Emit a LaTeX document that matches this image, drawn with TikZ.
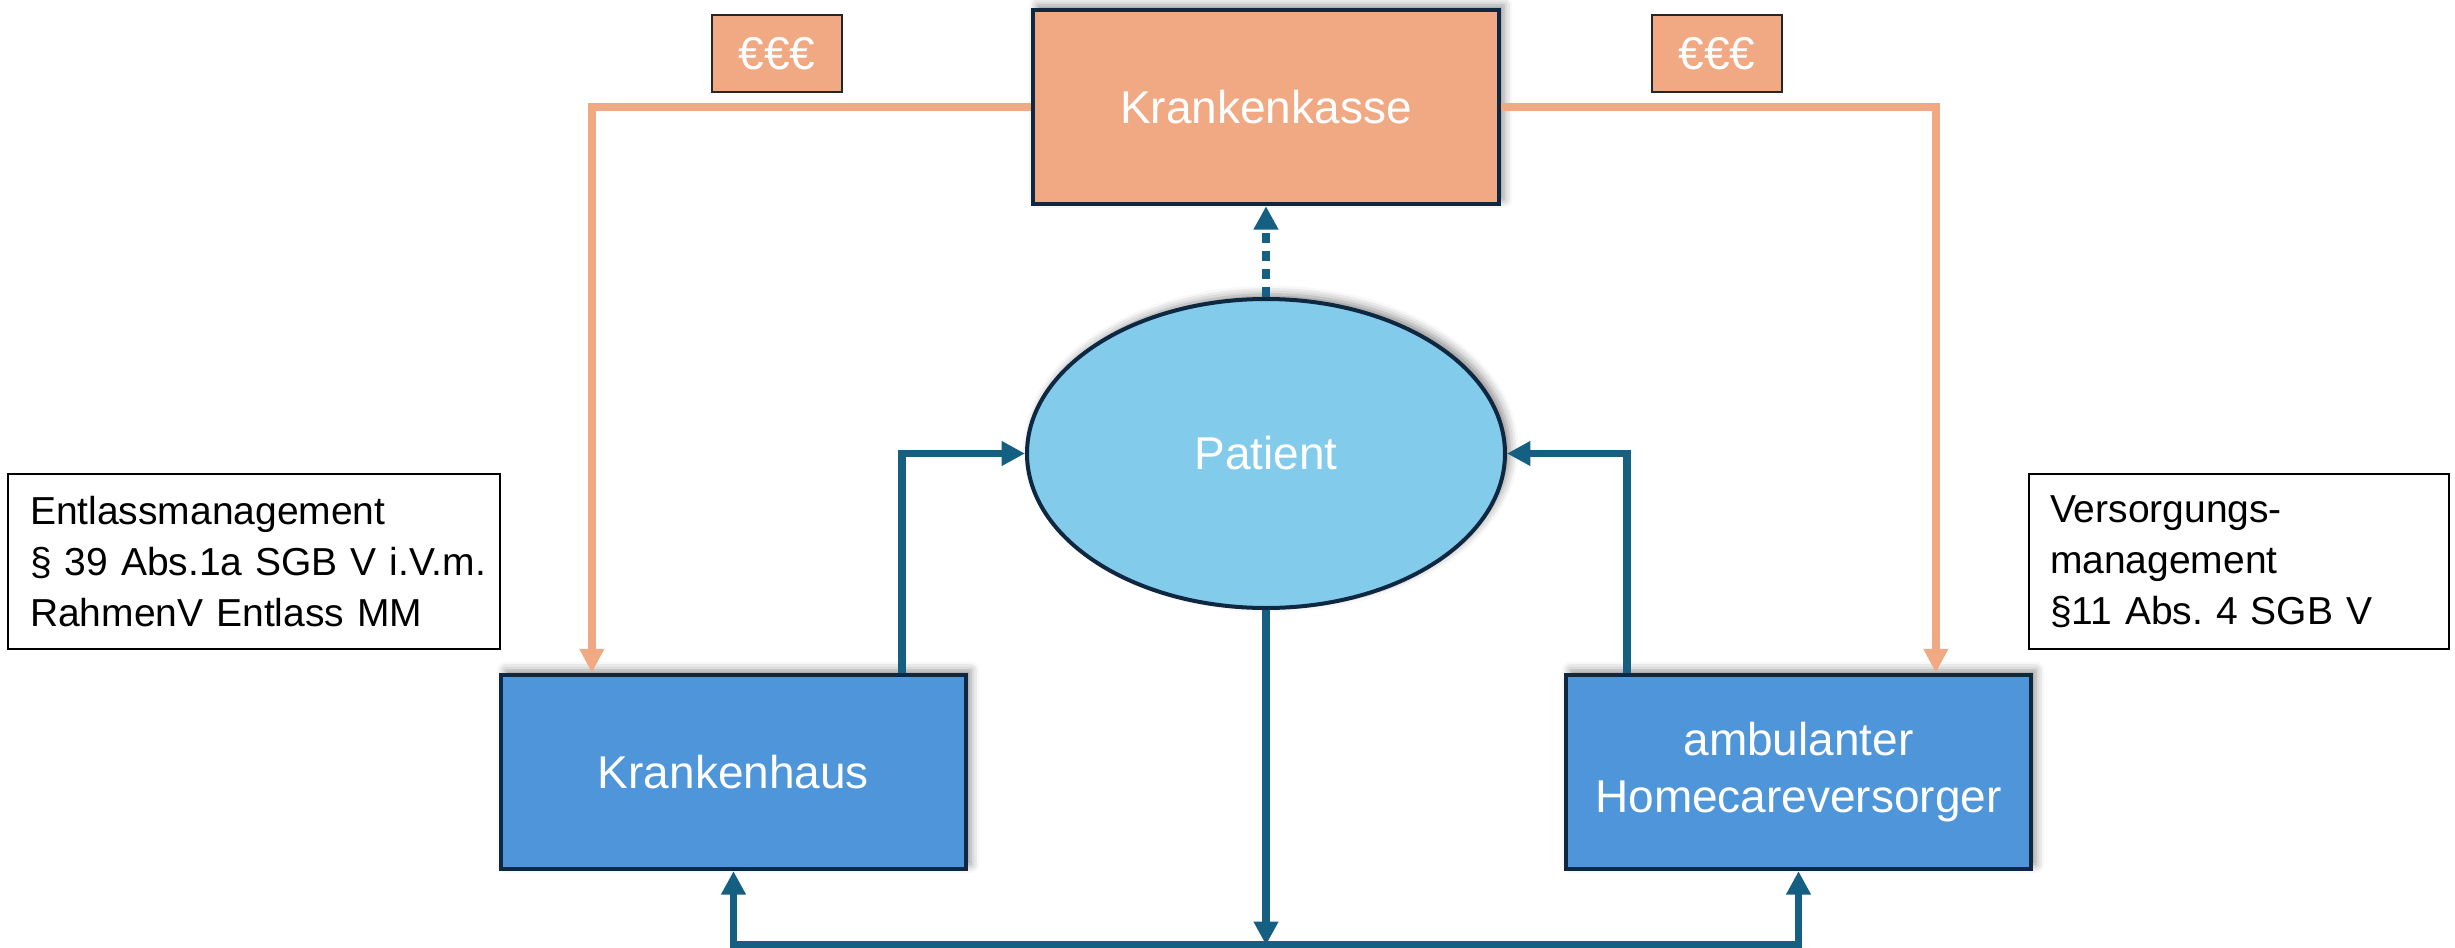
\documentclass[tikz,border=0pt]{standalone}
\usepackage{fontspec}
\setmainfont{Liberation Sans}
\usetikzlibrary{arrows.meta,shapes.geometric,calc,shadows.blur}
\definecolor{kkorange}{HTML}{F1A983}
\definecolor{boxblue}{HTML}{4E95D9}
\definecolor{ellblue}{HTML}{83CBEB}
\definecolor{linkblue}{HTML}{156082}
\definecolor{navy}{HTML}{0E2841}
\frenchspacing
\begin{document}
\begin{tikzpicture}[x=0.3pt,y=-0.3pt,
  softshadow/.style={blur shadow={shadow xshift=1.4pt,shadow yshift=1.4pt,shadow blur radius=2.6pt,shadow opacity=45}},
  mainbox/.style={rectangle,draw=navy,line width=1.3pt,minimum width=139.8pt,minimum height=58.2pt,
    inner sep=0pt,text=white,align=center,font=\fontsize{13.8}{17.1}\selectfont,softshadow},
  patientell/.style={ellipse,draw=navy,line width=1.2pt,fill=ellblue,minimum width=143.4pt,
    minimum height=92.7pt,inner sep=0pt,text=white,font=\fontsize{13.8}{17.1}\selectfont,softshadow},
  eurobox/.style={rectangle,draw=black!85,line width=0.45pt,fill=kkorange,minimum width=39pt,
    minimum height=23.1pt,inner sep=0pt,text=white,font=\fontsize{13.8}{17.1}\selectfont},
  lawbox/.style={rectangle,draw=black,line width=0.6pt,minimum height=52.5pt,inner ysep=0pt,
    align=left,font=\fontsize{11.7}{15.3}\selectfont\frenchspacing},
  oline/.style={draw=kkorange,line width=2.4pt,line join=miter,-{Triangle[width=7pt,length=7.2pt]}},
  bline/.style={draw=linkblue,line width=2.25pt,line join=miter},
  btip/.style={-{Triangle[width=7pt,length=7pt]}}
]
\useasboundingbox (0,0) rectangle (2455,948);

% nodes
\node[mainbox,fill=kkorange] (kk) at (1266,107) {Krankenkasse};
\node[mainbox,fill=boxblue,minimum width=139.5pt] (kh) at (733.5,772) {Krankenhaus};
\node[mainbox,fill=boxblue,minimum width=139.5pt] (hc) at (1798.5,772) {ambulanter\\Homecareversorger};
\node[patientell] (pt) at (1266,453.5) {Patient};
\node[eurobox] (e1) at (777,53.5) {€€€};
\node[eurobox] (e2) at (1717,53.5) {€€€};
\node[lawbox,text width=134.4pt,inner xsep=6.6pt] (lt) at (254,561.5)
  {\mbox{Entlassmanagement}\\\mbox{§ 39 Abs.1a SGB V i.V.m.}\\\mbox{RahmenV Entlass MM}};
\node[lawbox,text width=113.4pt,inner xsep=6.3pt] (rt) at (2239,561.5)
  {\mbox{Versorgungs-}\\\mbox{management}\\\mbox{§11 Abs. 4 SGB V}};

% money flows
\draw[oline] (kk.west) -| ($(kh.north west)+(93,0)$);
\draw[oline] (kk.east) -| ($(hc.north west)+(372,0)$);

% patient to Krankenkasse (dashed)
\draw[bline,btip,dash pattern=on 3pt off 2.4pt] (pt.north) -- (kk.south);

% providers to patient
\draw[bline,btip] ($(kh.north west)+(403,0)$) |- (pt.west);
\draw[bline,btip] ($(hc.north west)+(63,0)$) |- (pt.east);

% patient down to bottom line
\coordinate (bot) at (1266,945);
\draw[bline,btip] (pt.south) -- (bot);
\draw[bline,{Triangle[width=7pt,length=7pt]}-{Triangle[width=7pt,length=7pt]}] (kh.south) |- (bot) -| (hc.south);
\end{tikzpicture}
\end{document}
